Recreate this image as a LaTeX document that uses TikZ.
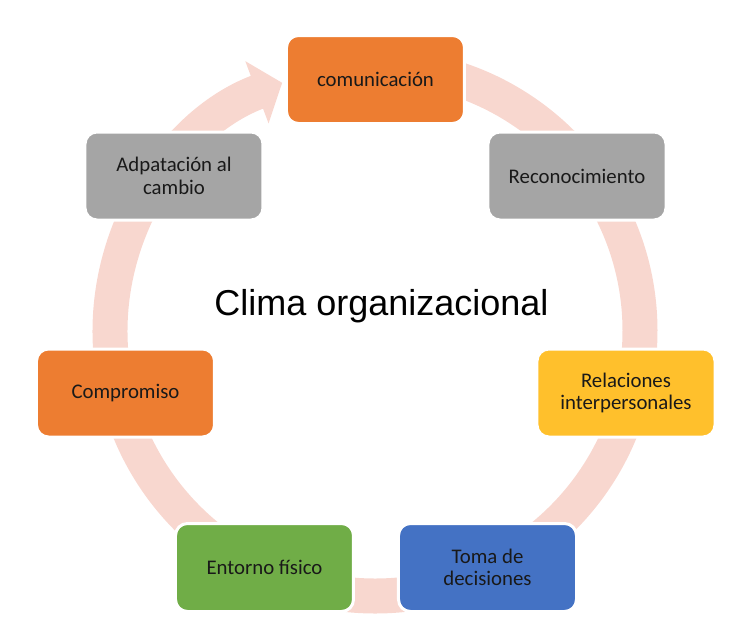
\documentclass[tikz,border=0pt]{standalone}
\usepackage{fontspec}
\setmainfont{Carlito}
\newfontfamily\titlefont{Liberation Sans}
\usetikzlibrary{arrows.meta}
\definecolor{ringpink}{HTML}{F8D7CF}
\definecolor{boxorange}{HTML}{ED7D31}
\definecolor{boxgray}{HTML}{A5A5A5}
\definecolor{boxgold}{HTML}{FFC02C}
\definecolor{boxblue}{HTML}{4472C4}
\definecolor{boxgreen}{HTML}{70AD47}

\begin{document}
\begin{tikzpicture}[x=0.5pt, y=0.5pt,
    item/.style={draw=white, line width=1.5pt, rounded corners=6pt,
      minimum width=89pt, minimum height=44pt, align=center,
      font=\fontsize{10.4}{11.3}\selectfont, text=black!90}]
                % Define the coordinates
                \useasboundingbox (-375,-291) rectangle (375,331);
                \coordinate (O) at (0,0);

                % Draw the cycle ring
                \draw[ringpink, line width=17.5pt, -{Triangle[length=13.5pt, width=32.5pt]}]
                (88:132.5pt) arc[start angle=88, end angle=-249.5, radius=132.5pt];

                % Draw the boxes
                \node[item, fill=boxorange] (com) at (0.5,251.5) {comunicación};
                \node[item, fill=boxgray] (rec) at (202,155) {Reconocimiento};
                \node[item, fill=boxgold] (rel) at (251,-62) {Relaciones\\interpersonales};
                \node[item, fill=boxblue] (tom) at (112.5,-236.5) {Toma de\\decisiones};
                \node[item, fill=boxgreen] (ent) at (-110.5,-236.5) {Entorno físico};
                \node[item, fill=boxorange] (comp) at (-249.5,-62) {Compromiso};
                \node[item, fill=boxgray] (ada) at (-201,155) {Adpatación al\\cambio};

                % Draw the labels
                \node[font=\titlefont\fontsize{18}{20}\selectfont, anchor=base] (title) at (6.5,16)
                {Clima organizacional};
              \end{tikzpicture}
\end{document}
